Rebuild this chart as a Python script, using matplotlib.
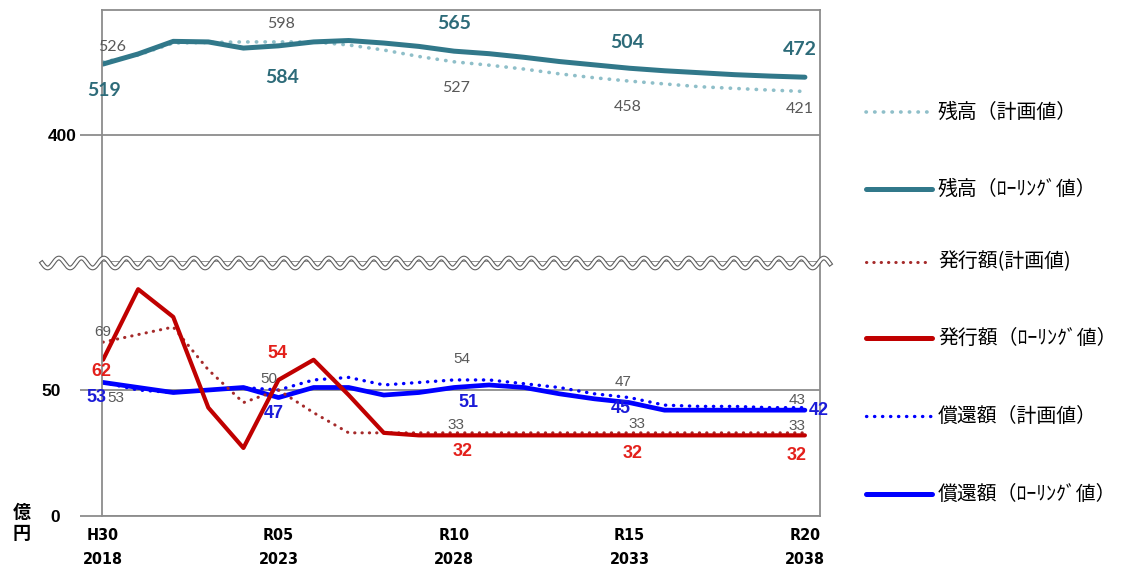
import numpy as np
import matplotlib
matplotlib.use("Agg")
import matplotlib.pyplot as plt
from matplotlib.lines import Line2D

# data (億円)
years = list(range(2018, 2039))
tick_years = [2018, 2023, 2028, 2033, 2038]
tick_labels = ["H30\n2018", "R05\n2023", "R10\n2028", "R15\n2033", "R20\n2038"]

zandaka_plan = [526, 551, 594, 596, 598, 598, 598, 587, 569, 546, 527,
                515, 501, 484, 470, 458, 448, 438, 432, 426, 421]
zandaka_roll = [519, 555, 600, 598, 576, 584, 598, 603, 594, 582, 565,
                556, 543, 528, 516, 504, 495, 488, 481, 476, 472]
hakko_plan = [69, 72, 75, 58, 45, 50, 41, 33, 33, 33, 33,
              33, 33, 33, 33, 33, 33, 33, 33, 33, 33]
hakko_roll = [62, 90, 79, 43, 27, 54, 62, 48, 33, 32, 32,
              32, 32, 32, 32, 32, 32, 32, 32, 32, 32]
shokan_plan = [53, 50, 49, 50, 51, 50, 54, 55, 52, 53, 54,
               54, 52.5, 51, 48.5, 47, 44, 43.5, 43.5, 43, 43]
shokan_roll = [53, 51, 49, 50, 51, 47, 51, 51, 48, 49, 51,
               52, 51, 48.5, 46.5, 45, 42, 42, 42, 42, 42]

legend_labels = ["残高（計画値）", "残高（ﾛｰﾘﾝｸﾞ値）", "発行額(計画値)",
                 "発行額（ﾛｰﾘﾝｸﾞ値）", "償還額（計画値）", "償還額（ﾛｰﾘﾝｸﾞ値）"]

# colours
TEAL = "#31788a"
TEAL_LIGHT = "#8fbfc9"
DRED = "#c00000"
DRED_DOT = "#a52a2a"
BLUE = "#0000ff"
GRID = "#8c8c8c"
LBL_GRAY = "#595959"

W, H = 1122, 570
fig = plt.figure(figsize=(W / 100, H / 100), dpi=100)

def fx(px):
    return px / W

def fy(py):
    return 1 - py / H

ax_top = fig.add_axes([fx(102), fy(262), fx(820) - fx(102), fy(10) - fy(262)])
ax_bot = fig.add_axes([fx(102), fy(516), fx(820) - fx(102), fy(262) - fy(516)])

xlim = (2017.97, 2038.43)
for ax in (ax_top, ax_bot):
    ax.set_xlim(*xlim)
    for s in ax.spines.values():
        s.set_color(GRID)
        s.set_linewidth(1.3)
    ax.tick_params(axis="y", length=16, width=1.3, color=GRID)
    ax.tick_params(axis="x", length=0)

dot = (0, (0.1, 2.3))

# upper panel (残高)
ax_top.set_ylim(-188, 712)
ax_top.set_yticks([265])
ax_top.set_yticklabels(["400"])
ax_top.tick_params(axis="y", pad=2)
ax_top.grid(axis="y", color=GRID, lw=1.3)
ax_top.set_xticks([])
ax_top.plot(years, zandaka_plan, color=TEAL_LIGHT, lw=2.6, ls=dot,
            dash_capstyle="round")
ax_top.plot(years, zandaka_roll, color=TEAL, lw=3.6, solid_capstyle="round")

# lower panel (発行額・償還額)
ax_bot.set_ylim(0, 100.8)
ax_bot.set_yticks([0, 50])
ax_bot.tick_params(axis="y", length=16, pad=14)
ax_bot.grid(axis="y", color=GRID, lw=1.3)
ax_bot.spines["top"].set_visible(False)
ax_bot.set_xticks(tick_years)
ax_bot.set_xticklabels(tick_labels, linespacing=1.7)
ax_bot.tick_params(axis="x", pad=9)
for t in ax_bot.get_xticklabels():
    t.set_fontfamily(["DejaVu Sans"])
    t.set_fontstretch("condensed")
    t.set_fontweight("bold")
    t.set_fontsize(11.5)

ax_bot.plot(years, shokan_plan, color=BLUE, lw=2.4, ls=dot, dash_capstyle="round")
ax_bot.plot(years, shokan_roll, color=BLUE, lw=3.4, solid_capstyle="round")
ax_bot.plot(years, hakko_plan, color=DRED_DOT, lw=2.2, ls=dot, dash_capstyle="round")
ax_bot.plot(years, hakko_roll, color=DRED, lw=3.0, solid_capstyle="round")

for ax in (ax_top, ax_bot):
    for t in ax.get_yticklabels():
        t.set_fontfamily("Liberation Sans")
        t.set_fontweight("bold")
        t.set_fontsize(12.5)

# data labels: (series, year, pixel offset)
def put(ax, series, yr, text, dx, dy, color, size, weight, family):
    i = years.index(yr)
    ax.annotate(text, (yr, series[i]), xytext=(dx * 0.72, dy * 0.72),
                textcoords="offset points", ha="center", va="center",
                color=color, fontsize=size, fontweight=weight,
                fontfamily=family, annotation_clip=False)

for yr, dx, dy in [(2018, 1, -26), (2023, 4, -32), (2028, 0, 28),
                   (2033, -2, 26), (2038, -5, 28)]:
    put(ax_top, zandaka_roll, yr, str(zandaka_roll[years.index(yr)]), dx, dy,
        "#2d6b79", 14, "bold", "Lato")
for yr, dx, dy in [(2018, 9, 15), (2023, 3, 18), (2028, 2, -26),
                   (2033, -2, -26), (2038, -5, -18)]:
    put(ax_top, zandaka_plan, yr, str(zandaka_plan[years.index(yr)]), dx, dy,
        LBL_GRAY, 11.5, "normal", "Lato")

for yr, dx, dy in [(2018, -2, -12), (2023, -1, 26), (2028, 9, -16),
                   (2033, 3, -18), (2038, -8, -20)]:
    put(ax_bot, hakko_roll, yr, str(hakko_roll[years.index(yr)]), dx, dy,
        "#e3201b", 13, "bold", "Liberation Sans")
for yr, dx, dy in [(2018, 0, 10), (2023, -10, 11), (2028, 2, 8),
                   (2033, 8, 9), (2038, -8, 7)]:
    put(ax_bot, hakko_plan, yr, str(hakko_plan[years.index(yr)]), dx, dy,
        LBL_GRAY, 11, "normal", "Liberation Sans")
for yr, dx, dy in [(2018, -7, -15), (2023, -5, -16), (2028, 14, -15),
                   (2033, -9, -6), (2038, 14, 0)]:
    put(ax_bot, shokan_roll, yr, "%d" % shokan_roll[years.index(yr)], dx, dy,
        "#1b1bd8", 13, "bold", "Liberation Sans")
for yr, dx, dy in [(2018, 13, -16), (2028, 8, 21), (2033, -6, 16), (2038, -8, 8)]:
    put(ax_bot, shokan_plan, yr, "%d" % round(shokan_plan[years.index(yr)]), dx, dy,
        LBL_GRAY, 11, "normal", "Liberation Sans")

# axis break: double wavy line
wx = np.linspace(42, 830, 800)
wy = 263 + 5 * np.sin(2 * np.pi * (wx - 42) / 22.5)
fig.add_artist(Line2D(fx(wx), fy(wy), color="#606060", lw=3.4))
fig.add_artist(Line2D(fx(wx), fy(wy), color="white", lw=1.8))

# unit
fig.text(fx(22), fy(523), "億\n円", ha="center", va="center", fontsize=13,
         fontweight="bold", linespacing=1.1,
         fontfamily=["Noto Sans CJK JP", "DejaVu Sans"])

# legend
styles = [
    dict(color=TEAL_LIGHT, lw=2.6, ls=dot, dash_capstyle="round"),
    dict(color=TEAL, lw=3.6, solid_capstyle="round"),
    dict(color=DRED_DOT, lw=2.2, ls=dot, dash_capstyle="round"),
    dict(color=DRED, lw=3.6, solid_capstyle="round"),
    dict(color=BLUE, lw=2.4, ls=dot, dash_capstyle="round"),
    dict(color=BLUE, lw=3.6, solid_capstyle="round"),
]
rows = [112, 189, 262, 338, 416, 494]
for lab, st, ry in zip(legend_labels, styles, rows):
    fig.add_artist(Line2D([fx(866), fx(932)], [fy(ry), fy(ry)], **st))
    fig.text(fx(938), fy(ry), lab, ha="left", va="center", fontsize=14.3,
             fontfamily=["Noto Sans CJK JP", "DejaVu Sans"])

fig.savefig("out.png", dpi=100)
